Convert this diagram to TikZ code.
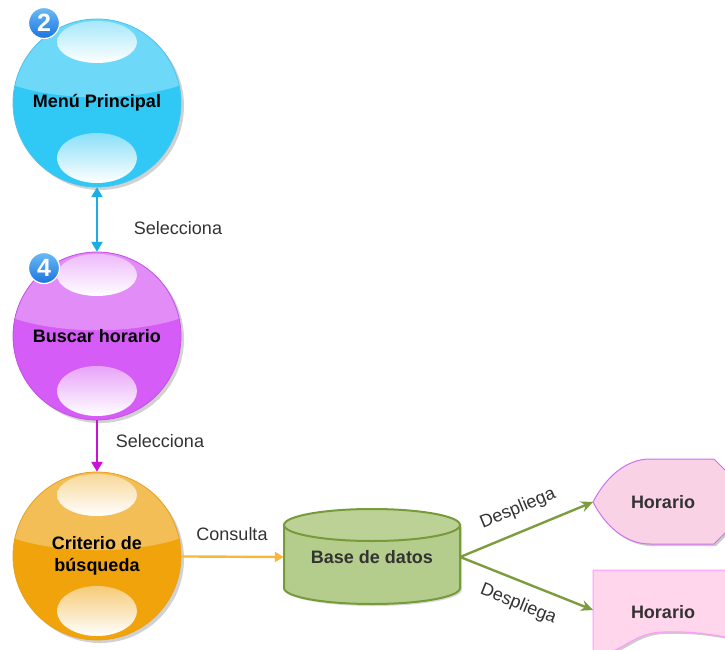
\documentclass[tikz,border=0pt]{standalone}
\usepackage{fontspec}
\setmainfont{Liberation Sans}
\usetikzlibrary{arrows.meta,shadows}
\definecolor{cyanL}{HTML}{6DD8F7}
\definecolor{cyanD}{HTML}{30C9F6}
\definecolor{cyanB}{HTML}{4EC3EA}
\definecolor{magL}{HTML}{E28CF7}
\definecolor{magD}{HTML}{D55CF6}
\definecolor{magB}{HTML}{C550E6}
\definecolor{orL}{HTML}{F3BE55}
\definecolor{orD}{HTML}{F0A30A}
\definecolor{orB}{HTML}{E8A020}
\definecolor{arCyan}{HTML}{1AAEE6}
\definecolor{arMag}{HTML}{CC11D6}
\definecolor{arOr}{HTML}{F8B73A}
\definecolor{arGreen}{HTML}{7D9C3E}
\definecolor{cylFill}{HTML}{B5CD8C}
\definecolor{cylLine}{HTML}{779A3A}
\definecolor{pinkA}{HTML}{FAD2E6}
\definecolor{pinkB}{HTML}{FFD6EC}
\definecolor{violA}{HTML}{D070F0}
\definecolor{violB}{HTML}{FF99FF}
\definecolor{txt}{HTML}{333333}
\definecolor{badgeT}{HTML}{6BBBF7}
\definecolor{badgeB}{HTML}{1C74DE}
\newcommand\ballbg[5]{%
  \begin{scope}[shift={(#1,#2)}]
    \fill[black, opacity=0.18] (3,3) circle[radius=84pt];
    \fill[#4] (0,0) circle[radius=84pt];
    \begin{scope}
      \clip (0,0) circle[radius=84pt];
      \fill[#3] (-90,-90) -- (90,-90) -- (90,-20) .. controls (40,-1) and (-40,-1) .. (-90,-20) -- cycle;
      \shade[top color=#3!60!white, bottom color=white] (0,-61) ellipse [x radius=40pt, y radius=21pt];
      \shade[top color=#3!80!white, bottom color=white] (0,55) ellipse [x radius=40pt, y radius=25pt];
    \end{scope}
    \draw[#5, line width=0.8pt] (0,0) circle[radius=84pt];
  \end{scope}}
\tikzset{
  sphere/.style={circle, minimum size=168pt, inner sep=0pt, align=center, text=black,
    font=\bfseries\fontsize{18}{22}\selectfont},
  badge/.style={circle, minimum size=31pt, inner sep=0pt, top color=badgeT, bottom color=badgeB,
    draw=white, line width=1.2pt, text=white, font=\bfseries\fontsize{25}{25}\selectfont},
  lbl/.style={text=txt, font=\fontsize{18}{22}\selectfont, inner sep=0pt},
  boxtxt/.style={text=txt, font=\bfseries\fontsize{18}{22}\selectfont, inner sep=0pt},
  conn/.style={line width=2.4pt},
}
\begin{document}
\begin{tikzpicture}[x=1pt,y=-1pt]
\useasboundingbox (0,0) rectangle (725,650);

% spheres
\ballbg{97}{103}{cyanL}{cyanD}{cyanB}
\node[sphere] (m) at (97,103) {Menú Principal};
\ballbg{97}{336}{magL}{magD}{magB}
\node[sphere] (b) at (97,336) {Buscar horario};
\ballbg{97}{556}{orL}{orD}{orB}
\node[sphere] (c) at (97,556) {Criterio de\\búsqueda};

% badges
\node[badge] (b2) at (44,23) {2};
\node[badge] (b4) at (44,268) {4};

% database cylinder
\fill[black, opacity=0.15] (286,527) -- (286,590) arc[start angle=180, end angle=360, x radius=88pt, y radius=16pt] -- (462,527) -- cycle;
\filldraw[fill=cylFill, draw=cylLine, line width=2pt]
  (284,525) -- (284,588) arc[start angle=180, end angle=360, x radius=88pt, y radius=16pt] -- (460,525) -- cycle;
\filldraw[fill=cylFill!92!white, draw=cylLine, line width=2pt] (372,525) ellipse [x radius=88pt, y radius=16pt];
\node[boxtxt, minimum width=176pt, minimum height=60pt] (db) at (372,557) {Base de datos};

% Horario display shape
\filldraw[fill=pinkA, draw=violA, line width=1pt,
  drop shadow={shadow xshift=2pt, shadow yshift=-2pt, opacity=0.2, fill=black}]
  (593,502) .. controls (606,477) and (626,459) .. (650,459) -- (714,459) -- (726,471) -- (726,532) -- (714,544) -- (650,544) .. controls (626,544) and (606,527) .. (593,502) -- cycle;
\coordinate (h1w) at (593,502);
\node[boxtxt] (h1) at (663,502) {Horario};

% Horario document shape
\filldraw[fill=pinkB, draw=violB, line width=1pt,
  drop shadow={shadow xshift=2pt, shadow yshift=-2pt, opacity=0.2, fill=black}]
  (593,570) -- (740,570) -- (740,640) .. controls (712,634) and (692,631) .. (662,632) .. controls (632,633) and (622,654) .. (593,656) -- cycle;
\coordinate (h2w) at (593,610);
\node[boxtxt] (h2) at (663,612) {Horario};

% connectors
\draw[conn, arCyan, {Triangle[width=11pt,length=10pt]}-{Triangle[width=11pt,length=10pt]}] (m) -- (b);
\node[lbl] (s1) at (178,228) {Selecciona};
\draw[conn, arMag, -{Triangle[width=11pt,length=10pt]}] (b) -- (c);
\node[lbl] (s2) at (160,441) {Selecciona};
\draw[conn, arOr, -{Triangle[width=10pt,length=9pt]}] (c) -- (db.west);
\node[lbl] (s3) at (232,534) {Consulta};
\draw[conn, arGreen, -{Stealth[width=11pt,length=12pt]}] (db.east) -- (h1w)
  node[lbl, midway, sloped, above=13pt] (d1) {Despliega};
\draw[conn, arGreen, -{Stealth[width=11pt,length=12pt]}] (db.east) -- (h2w)
  node[lbl, midway, sloped, below=13pt] (d2) {Despliega};
\end{tikzpicture}
\end{document}
